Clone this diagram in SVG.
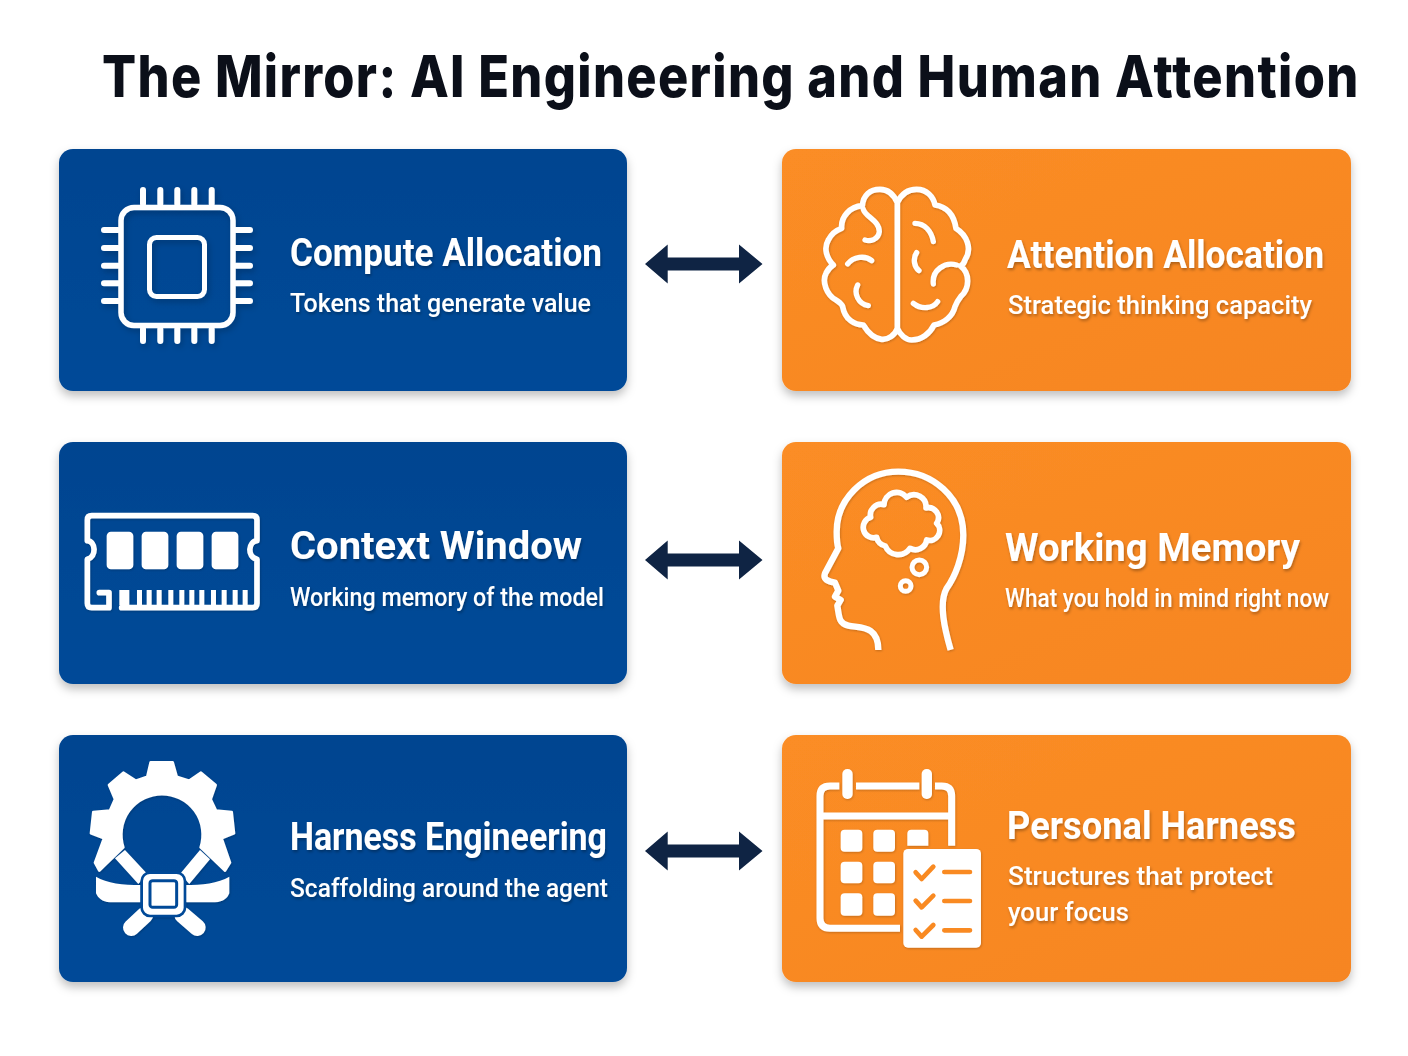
<svg xmlns="http://www.w3.org/2000/svg" width="1408" height="1056" viewBox="0 0 1408 1056">
<style>
.h{font-family:Roboto,"Liberation Sans",sans-serif;font-weight:700;font-size:38px;fill:#fff}
.s{font-family:Roboto,"Liberation Sans",sans-serif;font-weight:500;font-size:26px;fill:#fff}
.t{font-family:Inter,"Liberation Sans",sans-serif;font-weight:800;font-size:58px;fill:#0b0f19}
.ln{fill:none;stroke:#fff;stroke-linecap:round;stroke-linejoin:round}
.wh{fill:#fff}
.arrow{fill:#0f2444}
</style>
<defs>
<linearGradient id="bl" x1="0" y1="0" x2="0" y2="1"><stop offset="0" stop-color="#004490"/><stop offset="1" stop-color="#024a98"/></linearGradient>
<linearGradient id="or" x1="0" y1="0" x2="1" y2="1"><stop offset="0" stop-color="#fb8d25"/><stop offset="1" stop-color="#f68522"/></linearGradient>
<filter id="card" x="-5%" y="-8%" width="110%" height="120%"><feDropShadow dx="0" dy="5" stdDeviation="5" flood-color="#000" flood-opacity=".25"/></filter>
<filter id="ic" x="-15%" y="-15%" width="130%" height="130%"><feDropShadow dx="2" dy="3" stdDeviation="3" flood-color="#000" flood-opacity=".22"/></filter>
<filter id="tx" x="-5%" y="-20%" width="110%" height="150%"><feDropShadow dx="1" dy="2" stdDeviation="1.500" flood-color="#000" flood-opacity=".3"/></filter>
</defs>
<rect width="1408" height="1056" fill="#fff"/>
<text id="title" class="t" transform="translate(102 97) scale(.87 1)" x="0" y="0" textLength="1444" lengthAdjust="spacing">The Mirror: AI Engineering and Human Attention</text>

<g id="connectors">
<path id="a1" class="arrow" d="M645 264L667.700 244.500V257.500H739V244.500L762.500 264L739 283.500V270.500H667.700V283.500Z"/>
<path id="a2" class="arrow" d="M645 560L667.700 540.500V553.500H739V540.500L762.500 560L739 579.500V566.500H667.700V579.500Z"/>
<path id="a3" class="arrow" d="M645 851L667.700 831.500V844.500H739V831.500L762.500 851L739 870.500V857.500H667.700V870.500Z"/>
</g>

<g id="compute">
<rect x="59" y="149" width="568" height="242" rx="14" fill="url(#bl)" filter="url(#card)"/>
<g filter="url(#ic)">
<rect class="ln" x="121" y="207.500" width="112" height="118" rx="13" stroke-width="5.500"/>
<rect class="ln" x="149.500" y="237.500" width="55" height="59" rx="7" stroke-width="5"/>
<path class="ln" stroke-width="6" d="M143 190V204M160.300 190V204M177.300 190V204M194.300 190V204M211.700 190V204M143 329V341M160.300 329V341M177.300 329V341M194.300 329V341M211.700 329V341M104 230H118M104 248H118M104 265.700H118M104 283.300H118M104 301H118M236 230H250M236 248H250M236 265.700H250M236 283.300H250M236 301H250"/>
</g>
<g filter="url(#tx)">
<text class="h" x="290" y="266" textLength="312" lengthAdjust="spacingAndGlyphs">Compute Allocation</text>
<text class="s" x="290" y="312" textLength="301" lengthAdjust="spacingAndGlyphs">Tokens that generate value</text>
</g>
</g>

<g id="attention">
<rect x="782" y="149" width="569" height="242" rx="14" fill="url(#or)" filter="url(#card)"/>
<g filter="url(#ic)" transform="translate(800 160) scale(.3333)">
<path class="ln" stroke-width="17" d="M292 128V505M292 505C285 525 265 540 245 538C220 535 205 520 190 495C165 495 135 480 128 440C125 430 115 425 108 420C80 405 65 365 78 340C85 325 95 318 100 315C80 295 70 265 85 240C95 220 110 210 125 205C122 170 150 140 187 137C190 105 210 88 240 88C265 88 282 105 292 128C305 100 325 88 350 88C380 88 400 110 405 135C440 140 462 165 468 205C500 225 518 265 495 300C493 308 487 315 482 318C510 340 510 385 482 410C474 420 470 425 465 440C458 470 432 490 402 495C390 520 365 540 335 540C318 540 300 525 292 505"/>
<path class="ln" stroke-width="16" d="M190 148C195 170 238 180 238 215C235 240 210 245 195 240M143 312C160 290 195 285 215 302M173 375C160 400 175 432 205 437M345 190C375 190 395 215 400 245M350 278C338 295 342 320 357 332M400 372C395 330 435 305 470 315M340 430C365 450 400 445 413 425"/>
</g>
<g filter="url(#tx)">
<text class="h" x="1007" y="268" textLength="317" lengthAdjust="spacingAndGlyphs">Attention Allocation</text>
<text class="s" x="1008" y="314" textLength="304" lengthAdjust="spacingAndGlyphs">Strategic thinking capacity</text>
</g>
</g>

<g id="context">
<rect x="59" y="442" width="568" height="242" rx="14" fill="url(#bl)" filter="url(#card)"/>
<g filter="url(#ic)" transform="translate(70 500) scale(.3333)">
<path class="ln" stroke-width="17" d="M65 47H548Q561 47 561 60V122C535 125 530 170 561 178V310Q561 323 548 323H155M52 122V60Q52 47 65 47M52 122C78 125 80 170 52 178V310Q52 323 65 323H117V278H88"/>
<path class="wh" d="M148 316V270H178V316ZM201 316V270H216V316ZM230 316V270H245V316ZM260 316V270H275V316ZM295 316V270H310V316ZM328 316V270H343V316ZM358 316V270H373V316ZM388 316V270H403V316ZM423 316V270H438V316ZM455 316V270H470V316ZM488 316V270H503V316ZM518 316V270H533V316Z"/>
<rect class="wh" x="110" y="95" width="80" height="113" rx="13"/>
<rect class="wh" x="215" y="95" width="80" height="113" rx="13"/>
<rect class="wh" x="320" y="95" width="80" height="113" rx="13"/>
<rect class="wh" x="425" y="95" width="80" height="113" rx="13"/>
</g>
<g filter="url(#tx)">
<text class="h" x="290" y="559" textLength="292" lengthAdjust="spacingAndGlyphs">Context Window</text>
<text class="s" x="290" y="606" textLength="314" lengthAdjust="spacingAndGlyphs">Working memory of the model</text>
</g>
</g>

<g id="working">
<rect x="782" y="442" width="569" height="242" rx="14" fill="url(#or)" filter="url(#card)"/>
<g filter="url(#ic)" transform="translate(800 460) scale(.3333)">
<path fill="none" stroke="#fff" stroke-width="19" stroke-linejoin="round" d="M452 570C435 510 415 430 440 385C465 350 490 290 490 225C490 110 395 35 295 35C190 35 110 120 110 215C110 240 112 255 115 265L75 340C68 358 85 365 105 368L115 392L105 410L122 420L112 437C118 470 115 490 145 497C180 505 235 495 235 570"/>
<path class="ln" stroke-width="17" d="M212 172A32 32 0 0 1 252 134A38 38 0 0 1 320 112A36 36 0 0 1 378 144A30 30 0 0 1 410 190A30 30 0 0 1 380 240A34 34 0 0 1 330 265A42 42 0 0 1 256 258A32 32 0 0 1 230 232A30 30 0 0 1 212 172Z"/>
<circle class="ln" cx="358" cy="322" r="22" stroke-width="15"/>
<circle class="ln" cx="317" cy="378" r="16" stroke-width="15"/>
</g>
<g filter="url(#tx)">
<text class="h" x="1005" y="561" textLength="295" lengthAdjust="spacingAndGlyphs">Working Memory</text>
<text class="s" x="1005" y="607" textLength="324" lengthAdjust="spacingAndGlyphs">What you hold in mind right now</text>
</g>
</g>

<g id="harness">
<rect x="59" y="735" width="568" height="247" rx="14" fill="url(#bl)" filter="url(#card)"/>
<g filter="url(#ic)" transform="translate(70 750) scale(.3333)">
<path class="wh" stroke="#fff" stroke-width="8" stroke-linejoin="round" d="M160 292L88 362L75 338L102 265L63 250L70 186L120 182L135 148L117 105L160 68L197 92L232 80L242 37L308 37L320 80L358 92L393 68L437 105L422 148L438 182L485 186L492 250L455 265L480 338L465 362L392 292A122 122 0 1 0 160 292Z"/>
<path class="wh" d="M135 325L165 300L232 372L205 402ZM390 300L420 328L358 402L330 372Z"/>
<path class="ln" stroke-width="50" d="M225 495L184 533M338 495L382 533"/>
<path class="wh" d="M78 380C110 400 160 405 212 405V457H120C95 455 85 445 78 430ZM478 380C445 400 395 405 345 405V457H435C462 455 472 445 478 430Z"/>
<rect x="215" y="368" width="130" height="130" rx="25" fill="#fff" stroke="#024a98" stroke-width="8"/>
<rect x="240" y="392" width="80" height="80" rx="8" fill="#fff" stroke="#024a98" stroke-width="9"/>
</g>
<g filter="url(#tx)">
<text class="h" x="290" y="850" textLength="317" lengthAdjust="spacingAndGlyphs">Harness Engineering</text>
<text class="s" x="290" y="897" textLength="318" lengthAdjust="spacingAndGlyphs">Scaffolding around the agent</text>
</g>
</g>

<g id="personal">
<rect x="782" y="735" width="569" height="247" rx="14" fill="url(#or)" filter="url(#card)"/>
<g filter="url(#ic)" transform="translate(800 755) scale(.3333)">
<path fill="none" stroke="#fff" stroke-width="21" d="M118 93H90Q60 93 60 123V490Q60 520 90 520H300M168 93H358M405 93H425Q455 93 455 123V272M60 183H455"/>
<rect class="wh" x="127" y="42" width="31" height="90" rx="15"/>
<rect class="wh" x="365" y="42" width="31" height="90" rx="15"/>
<path class="wh" d="M134 224H175Q187 224 187 236V278Q187 290 175 290H134Q122 290 122 278V236Q122 224 134 224ZM232 224H273Q285 224 285 236V278Q285 290 273 290H232Q220 290 220 278V236Q220 224 232 224ZM334 224H373Q385 224 385 236V272H322V236Q322 224 334 224Z"/>
<rect class="wh" x="122" y="320" width="65" height="65" rx="12"/>
<rect class="wh" x="220" y="320" width="65" height="65" rx="12"/>
<rect class="wh" x="122" y="415" width="65" height="67" rx="12"/>
<rect class="wh" x="220" y="415" width="65" height="67" rx="12"/>
<rect class="wh" x="310" y="282" width="233" height="296" rx="14"/>
<path fill="none" stroke="#f98a24" stroke-width="14" stroke-linecap="round" stroke-linejoin="round" d="M347 352L365 372L400 335M347 437L365 457L400 422M347 525L365 545L400 510M433 351H510M433 438H510M433 526H510"/>
</g>
<g filter="url(#tx)">
<text class="h" x="1007" y="839" textLength="289" lengthAdjust="spacingAndGlyphs">Personal Harness</text>
<text class="s" x="1008" y="885" textLength="265" lengthAdjust="spacingAndGlyphs">Structures that protect</text>
<text class="s" x="1008" y="921" textLength="121" lengthAdjust="spacingAndGlyphs">your focus</text>
</g>
</g>
</svg>
